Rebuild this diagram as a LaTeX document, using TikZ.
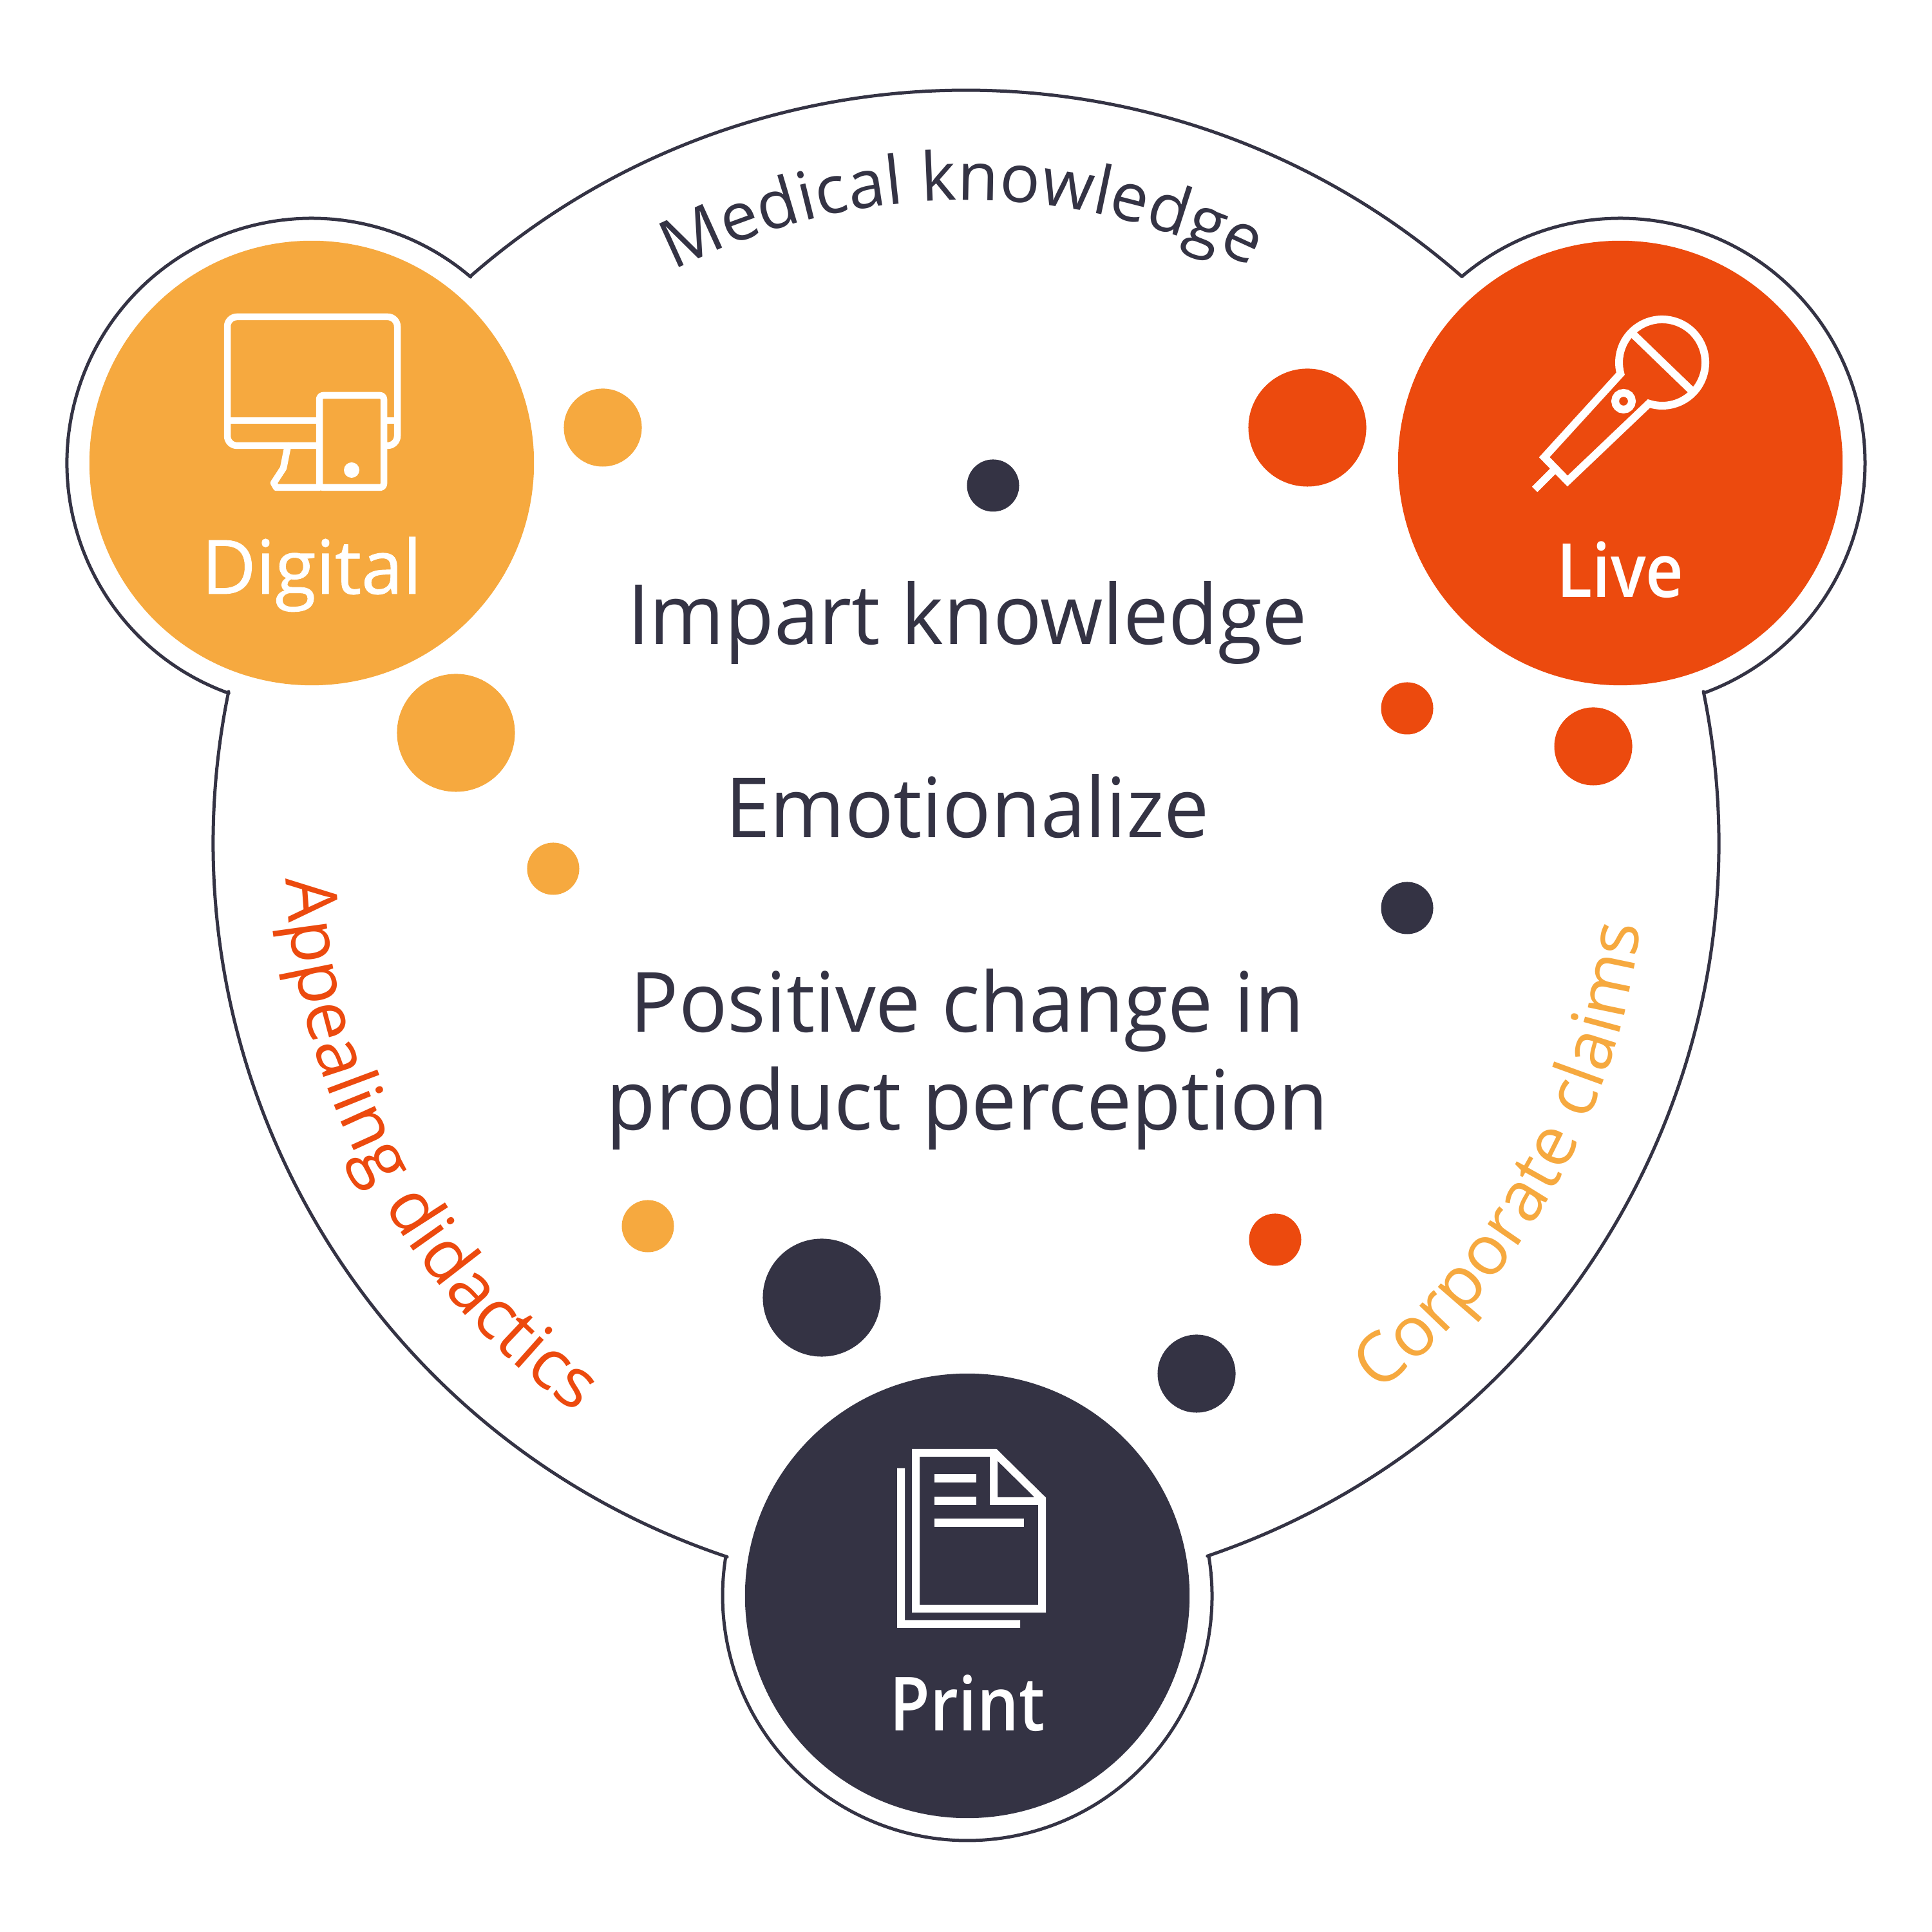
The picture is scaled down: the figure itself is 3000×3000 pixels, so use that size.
\documentclass[tikz,border=0pt]{standalone}
\usepackage{fontspec}
\usepackage{xcolor}
\setmainfont{Open Sans}
\newfontface\semifont[FakeStretch=0.88]{Open Sans Semibold}
\newfontface\leadfont[FakeBold=0.8]{Open Sans}
\newfontface\goalfont[FakeStretch=0.97]{Open Sans}
\usetikzlibrary{decorations.text}
\definecolor{DarkTone}{HTML}{343344}
\definecolor{AmberTone}{HTML}{F6A93F}
\definecolor{RedTone}{HTML}{EC4A0E}
\newcommand{\curvefont}[1]{\fontsize{#1}{36}\selectfont}

\begin{document}
\begin{tikzpicture}[
					%Environment config
					x=0.01cm,
					y=0.01cm,
					%Environment styles
					HubCfg/.style={circle,inner sep=0pt,minimum size=6.9cm},
					DotS/.style={circle,inner sep=0pt,minimum size=0.81cm},
					DotM/.style={circle,inner sep=0pt,minimum size=1.21cm},
					DotL/.style={circle,inner sep=0pt,minimum size=1.83cm},
					LeadCfg/.style={anchor=base,text=white,font=\fontsize{33}{38}\selectfont},
					GoalCfg/.style={anchor=base,text=DarkTone,font=\fontsize{36.7}{43}\selectfont\goalfont},
					OutlineCfg/.style={draw=DarkTone,line width=0.05cm,line cap=round},
					IconCfg/.style={draw=white,line width=0.105cm,line join=round}
					]
					\useasboundingbox (0,0) rectangle (3000,3000);
					
					\coordinate (Rim) at (1500,1691);
					\path
					(484,2281) node[HubCfg,fill=AmberTone](Digital){}
					(2516,2281) node[HubCfg,fill=RedTone](Live){}
					(1502,522) node[HubCfg,fill=DarkTone](Print){};
					
					%Outline
					\draw[OutlineCfg]
					(Rim) ++(131.2:1169) arc[start angle=131.2,end angle=48.8,radius=1169]
					(Rim) ++(11.6:1169) arc[start angle=11.6,end angle=-71.3,radius=1169]
					(Rim) ++(251.5:1169) arc[start angle=251.5,end angle=168.4,radius=1169]
					(Digital) ++(250.2:380) arc[start angle=250.2,end angle=49.5,radius=380]
					(Live) ++(130.3:380) arc[start angle=130.3,end angle=-70,radius=380]
					(Print) ++(9.3:380) arc[start angle=9.3,end angle=-189.3,radius=380];
					
					%Dots
					\path
					(936,2336) node[DotM,fill=AmberTone](A1){}
					(708,1862) node[DotL,fill=AmberTone](A2){}
					(859,1651) node[DotS,fill=AmberTone](A3){}
					(1006,1096) node[DotS,fill=AmberTone](A4){}
					(2030,2336) node[DotL,fill=RedTone](R1){}
					(2185,1900) node[DotS,fill=RedTone](R2){}
					(2474,1841) node[DotM,fill=RedTone](R3){}
					(1980,1075) node[DotS,fill=RedTone](R4){}
					(1542,2246) node[DotS,fill=DarkTone](D1){}
					(2185,1590) node[DotS,fill=DarkTone](D2){}
					(1276,985) node[DotL,fill=DarkTone](D3){}
					(1858,867) node[DotM,fill=DarkTone](D4){};
					
					%Labels
					\path
					(484,2078) node[LeadCfg](DigitalText){\leadfont Digital}
					(2516,2072) node[LeadCfg](LiveText){\semifont Live}
					(1502,312) node[LeadCfg](PrintText){\semifont Print}
					(1502,1999) node[GoalCfg](ImpartText){Impart knowledge}
					(1502,1699) node[GoalCfg](EmotionText){Emotionalize}
					(1502,1397) node[GoalCfg](PositiveText){Positive change in}
					(1502,1245) node[GoalCfg](ProductText){product perception};
					
					%Curved labels
					\path[decorate,decoration={text along path,text align=center,
						text={|\curvefont{29.6}\color{DarkTone}|Medical knowledge}}]
					(Rim) ++(130.4:998) arc[start angle=130.4,end angle=50.4,radius=998];
					\path[decorate,decoration={text along path,text align=center,
						text={|\curvefont{31}\color{RedTone}|Appealing didactics}}]
					(1515,1680) ++(168.5:1072) arc[start angle=168.5,end angle=248.5,radius=1072];
					\path[decorate,decoration={text along path,text align=center,
						text={|\curvefont{30.6}\color{AmberTone}|Corporate claims}}]
					(1487,1681) ++(-69.3:1066) arc[start angle=-69.3,end angle=10.7,radius=1066];
					
					%Digital icon
					\draw[IconCfg,rounded corners=0.15cm] (353,2308) rectangle (617,2508);
					\draw[IconCfg] (353,2347) -- (617,2347);
					\draw[IconCfg,line cap=round] (447,2308) -- (440,2273) -- (425,2250) -- (429,2243) -- (496,2243);
					\draw[IconCfg,fill=AmberTone,rounded corners=0.06cm] (496,2243) rectangle (596,2386);
					\fill[white] (546,2270) circle[radius=12];
					
					%Live icon
					\draw[IconCfg,line width=0.12cm,miter limit=10,line join=miter]
					(2581,2437) ++(252:67) arc[start angle=252,end angle=555,radius=67]
					-- (2398,2290) -- (2434,2253) -- cycle
					(2537,2480) -- (2625,2395)
					(2411,2268) -- (2383,2240)
					(2521,2377) circle[radius=13];
					
					%Print icon
					\draw[IconCfg,line width=0.12cm,line join=miter]
					(1422,502) -- (1422,744) -- (1545,744) -- (1618,672) -- (1618,502) -- cycle
					(1543,742) -- (1543,669) -- (1613,669)
					(1399,720) -- (1399,478) -- (1584,478);
					\draw[IconCfg,line width=0.13cm]
					(1451,704) -- (1516,704)
					(1451,669) -- (1516,669)
					(1451,635) -- (1590,635);
				\end{tikzpicture}
\end{document}
